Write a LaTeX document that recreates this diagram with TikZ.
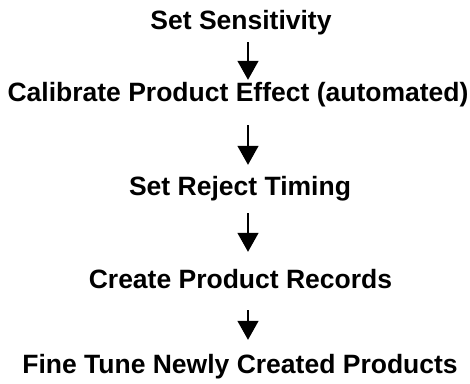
\documentclass[tikz,border=0pt]{standalone}
\usepackage{fontspec}
\setmainfont{Liberation Sans}
\usetikzlibrary{arrows.meta}
\begin{document}
\begin{tikzpicture}[x=1pt,y=-1pt,
    step text/.style={anchor=base,inner sep=0pt,font=\fontsize{26.5}{30}\selectfont\bfseries,
        text height=18pt,text depth=6pt},
    flow/.style={line width=1.3pt,-{Triangle[length=19pt,width=21pt]}}]
    \useasboundingbox (0,0) rectangle (470,383);
    \node[step text] (sens) at (241,29.5) {Set Sensitivity};
    \node[step text] (calib) at (238,101) {Calibrate Product Effect (automated)};
    \node[step text] (reject) at (240,195) {Set Reject Timing};
    \node[step text] (records) at (240.5,288) {Create Product Records};
    \node[step text] (tune) at (240,373) {Fine Tune Newly Created Products};
    \draw[flow,shorten <=6.5pt,shorten >=3pt] (sens.south -| 248,0) -- (calib.north -| 248,0);
    \draw[flow,shorten <=18pt,shorten >=12pt] (calib.south -| 248,0) -- (reject.north -| 248,0);
    \draw[flow,shorten <=12pt,shorten >=18pt] (reject.south -| 248,0) -- (records.north -| 248,0);
    \draw[flow,shorten <=16pt,shorten >=15pt] (records.south -| 248,0) -- (tune.north -| 248,0);
\end{tikzpicture}
\end{document}
